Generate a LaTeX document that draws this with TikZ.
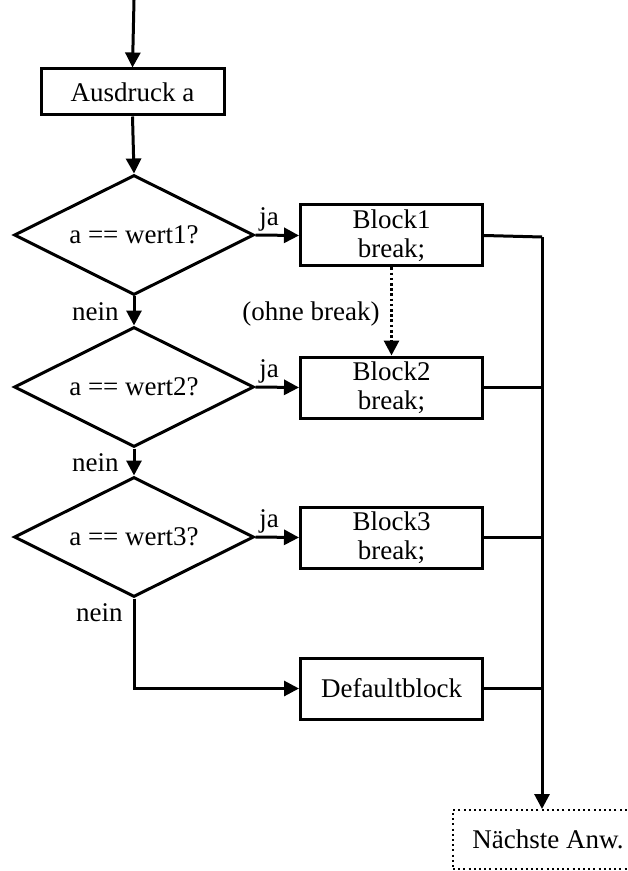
\documentclass[tikz,border=0pt]{standalone}
\usepackage{fontspec}
\setmainfont{Liberation Serif}
\usetikzlibrary{shapes.geometric,arrows.meta}
\begin{document}
\begin{tikzpicture}[x=0.5pt,y=-0.5pt,
  font=\fontsize{13.5}{14.5}\selectfont,
  line width=1.5pt,
  arr/.style={-{Triangle[length=7.5pt,width=7.5pt]}},
  boxnode/.style={draw,rectangle,inner sep=0pt,minimum width=91pt,minimum height=30.5pt,align=center},
  decision/.style={draw,diamond,inner sep=0pt,minimum width=120pt,minimum height=60pt},
  lbl/.style={inner sep=0pt}
]
\useasboundingbox (0,0) rectangle (627,871);
\clip (0,0) rectangle (627,871);
\coordinate (top) at (134,0);
\node[boxnode,minimum width=91.5pt,minimum height=23pt] (aus) at (132.5,92) {Ausdruck a};
\node[decision] (d1) at (134,235) {\makebox[0pt]{a == wert1?}};
\node[decision] (d2) at (134,387) {\makebox[0pt]{a == wert2?}};
\node[decision] (d3) at (134,537) {\makebox[0pt]{a == wert3?}};
\node[boxnode] (b1) at (391.5,235.5) {Block1\\break;};
\node[boxnode] (b2) at (391.5,387.5) {Block2\\break;};
\node[boxnode] (b3) at (391.5,537.5) {Block3\\break;};
\node[boxnode] (def) at (391.5,688.5) {Defaultblock};
\node[draw,rectangle,line width=1pt,dash pattern=on 1pt off 1.6pt,inner sep=0pt,minimum width=95pt,minimum height=29.5pt] (next) at (548,839.5) {Nächste Anw.};
\coordinate (j1) at (542,237);
\coordinate (j2) at (542,387.5);
\coordinate (j3) at (542,537.5);
\coordinate (j4) at (542,688.5);

\draw[arr] (top) -- (aus.north);
\draw[arr] (aus.south) -- (d1.north);
\draw[arr] (d1.south) -- (d2.north);
\draw[arr] (d2.south) -- (d3.north);
\draw[arr] (d1.east) -- (b1.west);
\draw[arr] (d2.east) -- (b2.west);
\draw[arr] (d3.east) -- (b3.west);
\draw[arr] (d3.south) |- (def.west);
\draw[arr,dash pattern=on 1.3pt off 1.3pt] (b1.south) -- (b2.north);
\draw (b1.east) -- (j1);
\draw (b2.east) -- (j2);
\draw (b3.east) -- (j3);
\draw (def.east) -- (j4);
\draw[arr] (j1) -- (next.north -| j1);

\node[lbl] (ja1) at (269,219) {ja};
\node[lbl] (ja2) at (269,371) {ja};
\node[lbl] (ja3) at (269,521) {ja};
\node[lbl,anchor=east] (n1) at (120,312) {nein};
\node[lbl,anchor=east] (n2) at (120,463) {nein};
\node[lbl,anchor=east] (n3) at (124,613) {nein};
\node[lbl,anchor=east] (ob) at (381,314) {(ohne break)};
\end{tikzpicture}
\end{document}
